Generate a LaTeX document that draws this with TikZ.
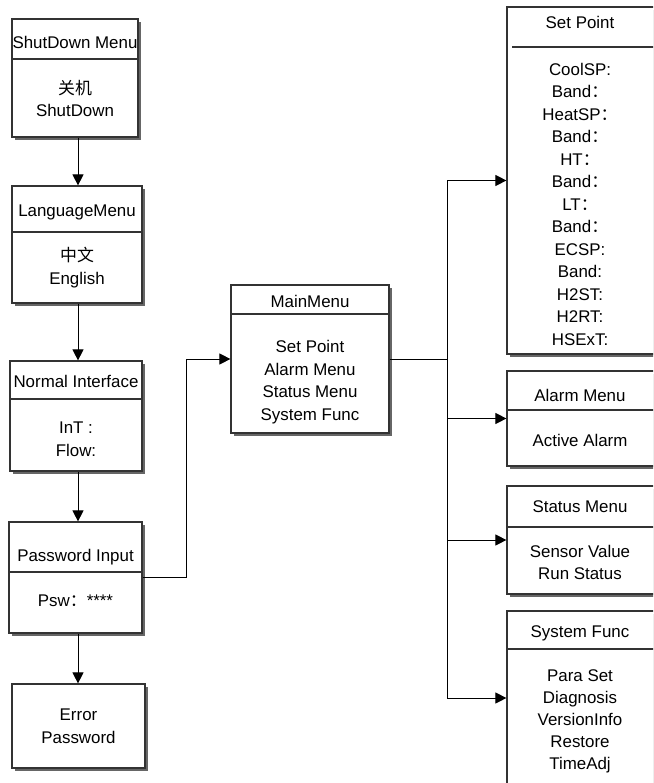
\documentclass[tikz,border=0pt]{standalone}
\usepackage{fontspec}
\setmainfont{Liberation Sans}
\newfontfamily\cjk{Noto Sans CJK SC}
\usetikzlibrary{arrows.meta,fit}
\newcommand\fwc{{\cjk ：}}
\tikzset{
  menubox/.style={draw=black!80, line width=1.2pt, fill=white, inner sep=0pt, rectangle,
    preaction={fill=black!60, transform canvas={shift={(3pt,-3pt)}}}},
  divider/.style={draw=black!80, line width=1.2pt},
  txt/.style={font=\fontsize{16.9}{22.4}\selectfont, inner sep=0pt, align=center, anchor=base},
  arr/.style={draw=black, line width=1pt, -{Triangle[length=11pt,width=11pt]}},
  wire/.style={draw=black, line width=1pt}
}
\begin{document}
\begin{tikzpicture}[x=1pt,y=-1pt]
\useasboundingbox (0,0) rectangle (653,783);
\clip (0,0) rectangle (653,783);
\fill[white] (0,0) rectangle (653,783);

% left column (multi-line texts are placed by the baseline of their last line)
\node[menubox, fit={(12,19) (138,137)}] (shut) {};
\draw[divider] (shut.west |- 0,59) -- (shut.east |- 0,59);
\node[txt] (shutT) at (75,49) {ShutDown Menu};
\node[txt] (shutB) at (75,116.5) {{\cjk 关机}\\ShutDown};

\node[menubox, fit={(12,186) (142,303)}] (lang) {};
\draw[divider] (lang.west |- 0,232) -- (lang.east |- 0,232);
\node[txt] (langT) at (77,217) {LanguageMenu};
\node[txt] (langB) at (77,284) {{\cjk 中文}\\English};

\node[menubox, fit={(10,361) (142,471)}] (norm) {};
\draw[divider] (norm.west |- 0,399) -- (norm.east |- 0,399);
\node[txt] (normT) at (76,387) {Normal Interface};
\node[txt] (normB) at (76,456) {InT :\\Flow:};

\node[menubox, fit={(9,522) (142,633)}] (pass) {};
\draw[divider] (pass.west |- 0,572) -- (pass.east |- 0,572);
\node[txt] (passT) at (75.5,561) {Password Input};
\node[txt] (passB) at (75.5,606) {Psw\fwc****};

\node[menubox, fit={(12,684) (145,768)}] (err) {};
\node[txt] (errB) at (78.5,743) {Error\\Password};

% main menu
\node[menubox, fit={(231,285) (389,433)}] (main) {};
\draw[divider] (main.west |- 0,314) -- (main.east |- 0,314);
\node[txt] (mainT) at (310,307) {MainMenu};
\node[txt] (mainB) at (310,420) {Set Point\\Alarm Menu\\Status Menu\\System Func};

% sub menus
\node[menubox, fit={(507,7) (660,354)}] (sp) {};
\draw[divider] (512,47) -- (sp.east |- 0,47);
\node[txt] (spT) at (580,29) {Set Point};
\node[txt, font=\fontsize{16.9}{22.5}\selectfont] (spB) at (580,345) {CoolSP:\\Band\fwc\\HeatSP\fwc\\Band\fwc\\HT\fwc\\Band\fwc\\LT\fwc\\Band\fwc\\ECSP:\\Band:\\H2ST:\\H2RT:\\HSExT:};

\node[menubox, fit={(507,371) (660,466)}] (al) {};
\draw[divider] (al.west |- 0,410) -- (al.east |- 0,410);
\node[txt] (alT) at (580,401) {Alarm Menu};
\node[txt] (alB) at (580,446) {Active Alarm};

\node[menubox, fit={(507,486) (660,594)}] (st) {};
\draw[divider] (st.west |- 0,527) -- (st.east |- 0,527);
\node[txt] (stT) at (580,512) {Status Menu};
\node[txt] (stB) at (580,579.5) {Sensor Value\\Run Status};

\node[menubox, fit={(507,611) (660,785)}] (sf) {};
\draw[divider] (sf.west |- 0,649) -- (sf.east |- 0,649);
\node[txt] (sfT) at (580,637) {System Func};
\node[txt, font=\fontsize{16.9}{22}\selectfont] (sfB) at (580,769) {Para Set\\Diagnosis\\VersionInfo\\Restore\\TimeAdj};

% connectors
\coordinate (vx) at (78,0);
\coordinate (jx) at (186,0);
\coordinate (tx) at (447,0);
\draw[arr] (shut.south -| vx) -- (lang.north -| vx);
\draw[arr] (lang.south -| vx) -- (norm.north -| vx);
\draw[arr] (norm.south -| vx) -- (pass.north -| vx);
\draw[arr] (pass.south -| vx) -- (err.north -| vx);
\draw[wire] (pass.east) -- (pass.east -| jx) -- (jx |- main.west);
\draw[arr] (jx |- main.west) -- (main.west);
\draw[wire] (main.east) -- (main.east -| tx);
\draw[wire] (tx |- sp.west) -- (tx |- sf.west);
\draw[arr] (tx |- sp.west) -- (sp.west);
\draw[arr] (tx |- al.west) -- (al.west);
\draw[arr] (tx |- st.west) -- (st.west);
\draw[arr] (tx |- sf.west) -- (sf.west);
\end{tikzpicture}
\end{document}
